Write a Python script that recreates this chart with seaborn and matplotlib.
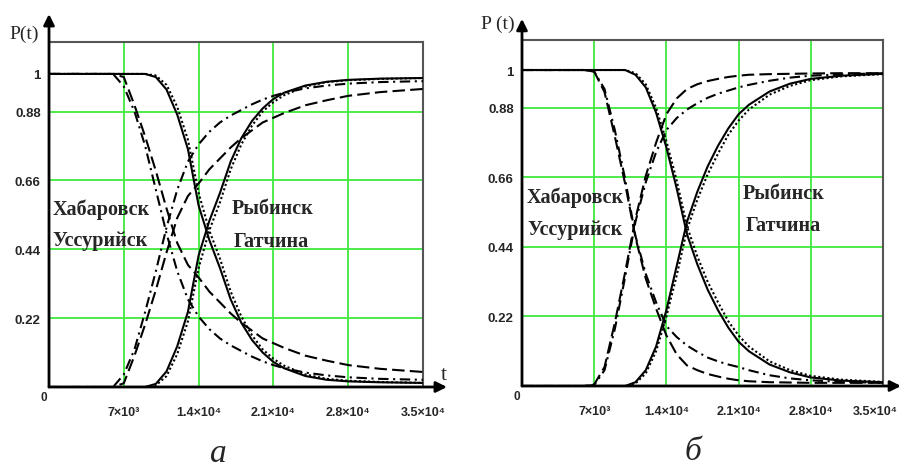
import matplotlib
matplotlib.use("Agg")
import matplotlib.pyplot as plt
import seaborn as sns

# time points (shared by all curves)
t_grid = [0, 5000, 6000, 7000, 8000, 9000, 10000, 11000, 12000, 13000, 14000,
          15000, 16000, 17000, 18000, 19000, 20000, 21000, 22000, 24000,
          26000, 28000, 31000, 35000]

# panel а: falling P(t) and rising curves for each city
a_rybinsk_p = [1, 1, 1, 1, 1, 1, 0.99, 0.95, 0.87, 0.76, 0.58, 0.47, 0.38, 0.28,
               0.205, 0.15, 0.11, 0.08, 0.06, 0.035, 0.023, 0.018, 0.015, 0.013]
a_rybinsk_q = [0, 0, 0, 0, 0, 0, 0.01, 0.05, 0.13, 0.24, 0.42, 0.53, 0.62, 0.72,
               0.795, 0.85, 0.89, 0.92, 0.94, 0.963, 0.975, 0.981, 0.985, 0.987]
a_gatchina_p = [1, 1, 1, 1, 1, 1, 0.995, 0.965, 0.895, 0.79, 0.62, 0.5, 0.41, 0.305,
                0.225, 0.165, 0.12, 0.09, 0.068, 0.04, 0.026, 0.02, 0.016, 0.013]
a_gatchina_q = [0, 0, 0, 0, 0, 0, 0.005, 0.035, 0.105, 0.21, 0.38, 0.5, 0.59, 0.695,
                0.775, 0.835, 0.88, 0.91, 0.932, 0.96, 0.974, 0.98, 0.984, 0.987]
a_khabarovsk_p = [1, 1, 1, 0.96, 0.88, 0.77, 0.63, 0.49, 0.37, 0.28, 0.225, 0.185,
                  0.155, 0.133, 0.115, 0.097, 0.082, 0.07, 0.06, 0.046, 0.037, 0.031,
                  0.026, 0.023]
a_khabarovsk_q = [0, 0, 0, 0.04, 0.12, 0.24, 0.37, 0.51, 0.63, 0.72, 0.775, 0.815,
                  0.845, 0.867, 0.885, 0.903, 0.918, 0.93, 0.94, 0.954, 0.963, 0.969,
                  0.974, 0.977]
a_ussuriysk_p = [1, 1, 1, 0.99, 0.9, 0.8, 0.69, 0.57, 0.46, 0.39, 0.35, 0.305, 0.27,
                 0.235, 0.205, 0.18, 0.155, 0.14, 0.125, 0.1, 0.084, 0.07, 0.058, 0.048]
a_ussuriysk_q = [0, 0, 0, 0.012, 0.1, 0.2, 0.31, 0.43, 0.54, 0.61, 0.65, 0.695, 0.73,
                 0.765, 0.795, 0.82, 0.845, 0.86, 0.875, 0.9, 0.916, 0.93, 0.942, 0.952]

# panel б
b_rybinsk_p = [1, 1, 1, 1, 1, 1, 1, 0.985, 0.945, 0.865, 0.755, 0.625, 0.48, 0.385,
               0.305, 0.24, 0.185, 0.14, 0.11, 0.068, 0.043, 0.027, 0.017, 0.012]
b_rybinsk_q = [0, 0, 0, 0, 0, 0, 0, 0.012, 0.05, 0.125, 0.24, 0.38, 0.52, 0.615,
               0.695, 0.76, 0.815, 0.86, 0.89, 0.932, 0.957, 0.972, 0.982, 0.988]
b_gatchina_p = [1, 1, 1, 1, 1, 1, 1, 0.99, 0.955, 0.88, 0.775, 0.65, 0.505, 0.41,
                0.33, 0.265, 0.205, 0.16, 0.125, 0.078, 0.05, 0.032, 0.02, 0.013]
b_gatchina_q = [0, 0, 0, 0, 0, 0, 0, 0.008, 0.04, 0.11, 0.22, 0.35, 0.495, 0.59,
                0.67, 0.735, 0.795, 0.84, 0.875, 0.922, 0.95, 0.968, 0.98, 0.987]
b_khabarovsk_p = [1, 1, 1, 0.995, 0.94, 0.81, 0.655, 0.475, 0.355, 0.265, 0.19, 0.155,
                  0.128, 0.108, 0.09, 0.078, 0.068, 0.06, 0.05, 0.034, 0.024, 0.018,
                  0.013, 0.01]
b_khabarovsk_q = [0, 0, 0, 0.003, 0.05, 0.18, 0.345, 0.52, 0.645, 0.74, 0.81, 0.848,
                  0.875, 0.895, 0.912, 0.925, 0.935, 0.945, 0.953, 0.966, 0.976, 0.982,
                  0.986, 0.99]
b_ussuriysk_p = [1, 1, 1, 0.995, 0.93, 0.79, 0.64, 0.47, 0.34, 0.245, 0.16, 0.1, 0.065,
                 0.05, 0.038, 0.03, 0.023, 0.018, 0.015, 0.012, 0.011, 0.01, 0.01, 0.01]
b_ussuriysk_q = [0, 0, 0, 0.005, 0.06, 0.2, 0.36, 0.53, 0.665, 0.77, 0.86, 0.91, 0.94,
                 0.955, 0.965, 0.972, 0.978, 0.982, 0.985, 0.987, 0.988, 0.989, 0.99, 0.99]

y_ticks = [0.22, 0.44, 0.66, 0.88, 1.0]
y_labels = ["0.22", "0.44", "0.66", "0.88", "1"]
x_ticks = [7000, 14000, 21000, 28000, 35000]
x_labels = ["7×10³", "1.4×10⁴", "2.1×10⁴", "2.8×10⁴", "3.5×10⁴"]
cities = ["Хабаровск", "Уссурийск", "Рыбинск", "Гатчина"]

sns.set_theme(style="white")
plt.rcParams["font.family"] = ["Liberation Sans", "DejaVu Sans"]
SERIF = ["Liberation Serif", "DejaVu Serif"]
GREEN = "#3fe83f"

line_styles = {
    "solid": "-",
    "dotted": (0, (1, 1.2)),
    "dash": (0, (6, 2.5)),
    "dashdot": (0, (5, 2.2, 1, 2.2)),
}

fig = plt.figure(figsize=(8.99, 4.77), dpi=100)
ax_a = fig.add_axes([49 / 899, 1 - 388 / 477, 374 / 899, 345 / 477])
ax_b = fig.add_axes([522 / 899, 1 - 387 / 477, 361 / 899, 346 / 477])

panels = [
    (ax_a, 1.102, 1.064, 1.081, "P(t)", (-0.107, 1.025),
     [(a_rybinsk_p, a_rybinsk_q, "solid"), (a_gatchina_p, a_gatchina_q, "dotted"),
      (a_khabarovsk_p, a_khabarovsk_q, "dashdot"), (a_ussuriysk_p, a_ussuriysk_q, "dash")],
     [(350, 0.569), (350, 0.47), (17100, 0.572), (17300, 0.466)]),
    (ax_b, 1.095, 1.05, 1.061, "P (t)", (-0.113, 1.048),
     [(b_rybinsk_p, b_rybinsk_q, "solid"), (b_gatchina_p, b_gatchina_q, "dotted"),
      (b_khabarovsk_p, b_khabarovsk_q, "dashdot"), (b_ussuriysk_p, b_ussuriysk_q, "dash")],
     [(460, 0.60), (560, 0.498), (21350, 0.612), (21650, 0.509)]),
]

for ax, ytop, xarr, yarr, ylab, ylab_pos, series, label_pos in panels:
    # green grid
    for gx in x_ticks[:-1]:
        ax.axvline(gx, color=GREEN, lw=1.3, zorder=0)
    for gy in y_ticks[:-1]:
        ax.axhline(gy, color=GREEN, lw=1.3, zorder=0)

    for p_vals, q_vals, st in series:
        for vals in (p_vals, q_vals):
            sns.lineplot(x=t_grid, y=vals, ax=ax, color="black", lw=1.5,
                         linestyle=line_styles[st], errorbar=None, zorder=3)

    ax.set_xlim(0, 35000)
    ax.set_ylim(0, ytop)
    ax.set_xticks(x_ticks)
    ax.set_xticklabels(x_labels, fontsize=9, fontweight="bold")
    ax.set_yticks(y_ticks)
    ax.set_yticklabels(y_labels, fontsize=9.5, fontweight="bold")
    ax.tick_params(axis="both", length=0)
    ax.tick_params(axis="x", pad=14)
    ax.tick_params(axis="y", pad=6)
    ax.set_xlabel("")
    ax.set_ylabel("")

    for side in ["top", "right"]:
        ax.spines[side].set_color("#555555")
        ax.spines[side].set_linewidth(1.5)
    for side in ["left", "bottom"]:
        ax.spines[side].set_visible(False)

    # axis arrows
    ax.annotate("", xy=(xarr, 0), xytext=(0, 0), xycoords="axes fraction",
                arrowprops=dict(arrowstyle="-|>", color="black", lw=2,
                                mutation_scale=16, shrinkA=0, shrinkB=0),
                annotation_clip=False)
    ax.annotate("", xy=(0, yarr), xytext=(0, 0), xycoords="axes fraction",
                arrowprops=dict(arrowstyle="-|>", color="black", lw=2,
                                mutation_scale=16, shrinkA=0, shrinkB=0),
                annotation_clip=False)

    ax.text(ylab_pos[0], ylab_pos[1], ylab, transform=ax.transAxes, fontsize=14,
            family=SERIF, ha="left", va="center")
    ax.text(-0.005, -0.012, "0", transform=ax.transAxes, fontsize=8.5,
            fontweight="bold", ha="right", va="top")

    for name, (tx, ty) in zip(cities, label_pos):
        ax.text(tx, ty, name, fontsize=14.5, fontweight="bold", family=SERIF,
                ha="left", va="center", zorder=4)

# last tick label of panel б sits at the image edge
ax_b.get_xticklabels()[-1].set_horizontalalignment("right")
import matplotlib.transforms as mtransforms
lbl = ax_b.get_xticklabels()[-1]
lbl.set_transform(lbl.get_transform() + mtransforms.ScaledTranslation(15 / 100, 0, fig.dpi_scale_trans))

ax_a.text(1.055, 0.01, "t", transform=ax_a.transAxes, fontsize=16,
          family=SERIF, ha="center", va="bottom")

fig.text(218 / 899, 1 - 454 / 477, "а", fontsize=24, style="italic",
         family=SERIF, ha="center", va="center")
fig.text(693 / 899, 1 - 452 / 477, "б", fontsize=24, style="italic",
         family=SERIF, ha="center", va="center")

fig.savefig("out.png", dpi=100)
